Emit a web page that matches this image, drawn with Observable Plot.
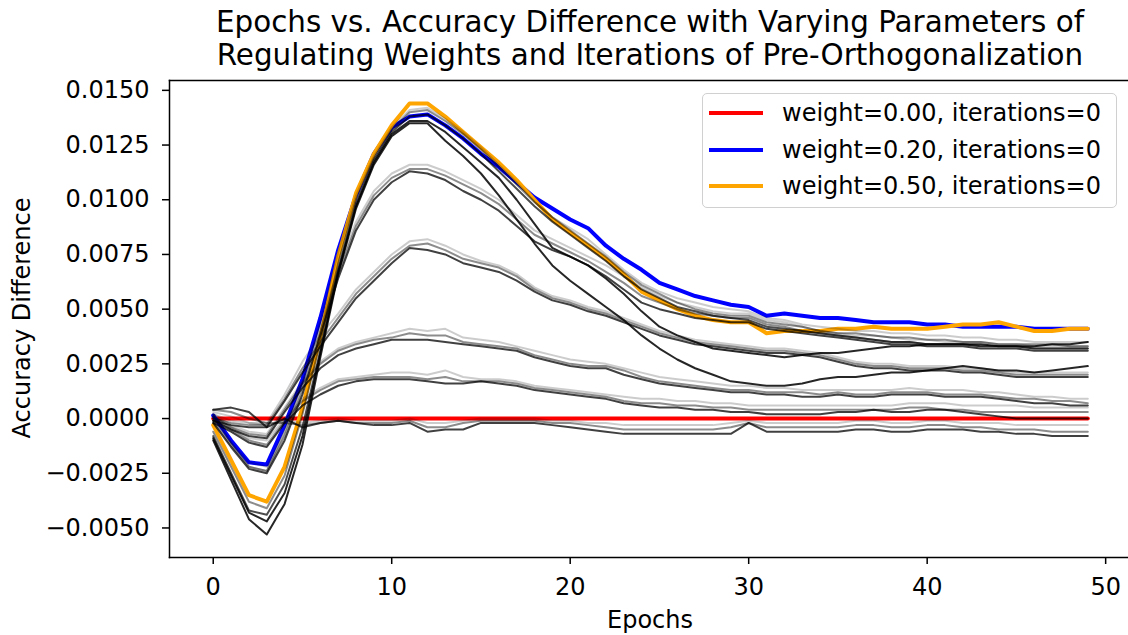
<!DOCTYPE html>
<html>
<head>
<meta charset="utf-8">
<script src="https://cdn.jsdelivr.net/npm/d3@7"></script>
<script src="https://cdn.jsdelivr.net/npm/@observablehq/plot@0.6"></script>
<style>
  body { margin: 0; background: #fff; font-family: "DejaVu Sans", sans-serif; }
  #wrap { position: relative; width: 1128px; height: 635px; overflow: hidden; background: #fff; }
  #title { height: 78px; box-sizing: border-box; padding: 6px 0 0 169px; width: 1131px;
           text-align: center; font-size: 29.4px; line-height: 33px; color: #000; }
  #chart svg { display: block; }
  #legend { position: absolute; left: 702px; top: 93px; width: 415px; height: 115px; box-sizing: border-box;
            border: 1.5px solid #d0d0d0; border-radius: 5px; background: rgba(255,255,255,0.8); }
  .row { position: absolute; left: 0; height: 30px; width: 100%; }
  .row .sw { position: absolute; left: 6px; top: 13px; width: 54px; height: 4px; }
  .row .tx { position: absolute; left: 79px; top: 0; font-size: 24px; line-height: 30px; white-space: nowrap; }
  #xlabel { position: absolute; left: 169px; width: 962px; top: 605px; text-align: center; font-size: 24px; line-height: 30px; }
  #ylabel { position: absolute; left: 22px; top: 318px; font-size: 24px; line-height: 30px; white-space: nowrap;
            transform: translate(-50%, -50%) rotate(-90deg); }
</style>
</head>
<body>
<div id="wrap">
  <div id="title">Epochs vs. Accuracy Difference with Varying Parameters of<br>Regulating Weights and Iterations of Pre-Orthogonalization</div>
  <div id="chart"></div>
  <div id="legend"></div>
  <div id="xlabel">Epochs</div>
  <div id="ylabel">Accuracy Difference</div>
</div>
<script>
// Training epochs
const epochs = [0,1,2,3,4,5,6,7,8,9,10,11,12,13,14,15,16,17,18,19,20,21,22,23,24,25,26,27,28,29,
  30,31,32,33,34,35,36,37,38,39,40,41,42,43,44,45,46,47,48,49];

const xTicks = [0, 10, 20, 30, 40, 50];
const yTicks = [-0.005, -0.0025, 0, 0.0025, 0.005, 0.0075, 0.01, 0.0125, 0.015];

// Highlighted runs (no pre-orthogonalization iterations)
const w000_it0 = [0,0,0,0,0,0,0,0,0,0,0,0,0,0,0,0,0,0,0,0,0,0,0,0,0,0,0,0,0,0,
  0,0,0,0,0,0,0,0,0,0,0,0,0,0,0,0,0,0,0,0];
const w020_it0 = [0.00014, -0.0010, -0.0020, -0.0021, -0.0003, 0.0018, 0.0046, 0.0077, 0.0102, 0.0121,
  0.0133, 0.0138, 0.0139, 0.0134, 0.0128, 0.0121, 0.0115, 0.0108, 0.0101, 0.0096,
  0.0091, 0.0087, 0.0079, 0.0073, 0.0068, 0.0062, 0.0059, 0.0056, 0.0054, 0.0052,
  0.0051, 0.0047, 0.0048, 0.0047, 0.0046, 0.0046, 0.0045, 0.0044, 0.0044, 0.0044,
  0.0043, 0.0043, 0.0042, 0.0042, 0.0042, 0.0042, 0.0041, 0.0041, 0.0041, 0.0041];
const w050_it0 = [-0.0003, -0.0019, -0.0035, -0.0038, -0.0022, 0.0005, 0.0037, 0.0074, 0.0103, 0.0121,
  0.0134, 0.0144, 0.0144, 0.0138, 0.0131, 0.0124, 0.0117, 0.0109, 0.0100, 0.0091,
  0.0085, 0.0079, 0.0073, 0.0066, 0.0058, 0.0054, 0.0050, 0.0047, 0.0045, 0.0044,
  0.0044, 0.0039, 0.0040, 0.0040, 0.0040, 0.0041, 0.0041, 0.0042, 0.0041, 0.0041,
  0.0041, 0.0042, 0.0043, 0.0043, 0.0044, 0.0042, 0.0040, 0.0040, 0.0041, 0.0041];

// Remaining runs, grouped by peak level; shade darkens with iterations
const grpA_1 = [0.0002, -0.0011, -0.0022, -0.0024, -0.0006, 0.0016, 0.0044, 0.0076, 0.0102, 0.0120,
  0.0133, 0.0141, 0.0142, 0.0137, 0.0131, 0.0124, 0.0116, 0.0108, 0.0099, 0.0092,
  0.0087, 0.0082, 0.0075, 0.0068, 0.0062, 0.0058, 0.0055, 0.0053, 0.0051, 0.0050,
  0.0049, 0.0046, 0.0045, 0.0043, 0.0042, 0.0041, 0.0040, 0.0040, 0.0039, 0.0039,
  0.0038, 0.0038, 0.0037, 0.0037, 0.0036, 0.0036, 0.0035, 0.0035, 0.0035, 0.0035];
const grpA_2 = [-0.0006, -0.0022, -0.0038, -0.0041, -0.0026, 0.0002, 0.0035, 0.0071, 0.0100, 0.0119,
  0.0132, 0.0140, 0.0141, 0.0136, 0.0130, 0.0123, 0.0115, 0.0107, 0.0099, 0.0092,
  0.0086, 0.0080, 0.0074, 0.0067, 0.0061, 0.0057, 0.0053, 0.0050, 0.0048, 0.0047,
  0.0047, 0.0044, 0.0043, 0.0042, 0.0040, 0.0039, 0.0039, 0.0038, 0.0037, 0.0037,
  0.0036, 0.0036, 0.0035, 0.0035, 0.0034, 0.0034, 0.0034, 0.0034, 0.0033, 0.0033];
const grpA_3 = [-0.0008, -0.0025, -0.0042, -0.0044, -0.0030, -0.0004, 0.0031, 0.0068, 0.0098, 0.0118,
  0.0131, 0.0138, 0.0139, 0.0134, 0.0128, 0.0121, 0.0113, 0.0105, 0.0097, 0.0090,
  0.0084, 0.0078, 0.0072, 0.0065, 0.0059, 0.0055, 0.0051, 0.0049, 0.0047, 0.0046,
  0.0045, 0.0042, 0.0041, 0.0040, 0.0039, 0.0038, 0.0037, 0.0036, 0.0035, 0.0035,
  0.0034, 0.0034, 0.0034, 0.0033, 0.0033, 0.0033, 0.0032, 0.0032, 0.0032, 0.0032];
const grpK_1 = [-0.0010, -0.0028, -0.0046, -0.0053, -0.0039, -0.0012, 0.0028, 0.0066, 0.0096, 0.0116,
  0.0129, 0.0135, 0.0135, 0.0127, 0.0120, 0.0112, 0.0102, 0.0091, 0.0080, 0.0070,
  0.0063, 0.0057, 0.0051, 0.0045, 0.0038, 0.0032, 0.0027, 0.0023, 0.0020, 0.0017,
  0.0016, 0.0015, 0.0015, 0.0016, 0.0018, 0.0019, 0.0019, 0.0020, 0.0021, 0.0021,
  0.0022, 0.0023, 0.0024, 0.0023, 0.0022, 0.0022, 0.0021, 0.0022, 0.0023, 0.0024];
const grpK_2 = [-0.0009, -0.0026, -0.0043, -0.0047, -0.0034, -0.0008, 0.0030, 0.0067, 0.0097, 0.0117,
  0.0130, 0.0136, 0.0136, 0.0131, 0.0124, 0.0117, 0.0110, 0.0100, 0.0089, 0.0078,
  0.0074, 0.0070, 0.0064, 0.0057, 0.0049, 0.0042, 0.0038, 0.0035, 0.0032, 0.0031,
  0.0030, 0.0029, 0.0028, 0.0029, 0.0030, 0.0030, 0.0031, 0.0032, 0.0033, 0.0033,
  0.0034, 0.0034, 0.0034, 0.0034, 0.0033, 0.0033, 0.0033, 0.0034, 0.0034, 0.0035];
const grpB_1 = [0.0001, -0.0011, -0.0020, -0.0022, -0.0006, 0.0016, 0.0043, 0.0068, 0.0090, 0.0104,
  0.0112, 0.0116, 0.0116, 0.0113, 0.0109, 0.0105, 0.0100, 0.0093, 0.0086, 0.0082,
  0.0078, 0.0074, 0.0070, 0.0065, 0.0060, 0.0056, 0.0053, 0.0051, 0.0049, 0.0048,
  0.0048, 0.0045, 0.0044, 0.0042, 0.0040, 0.0039, 0.0038, 0.0038, 0.0037, 0.0036,
  0.0036, 0.0035, 0.0035, 0.0035, 0.0034, 0.0034, 0.0033, 0.0033, 0.0033, 0.0033];
const grpB_2 = [-0.0001, -0.0012, -0.0022, -0.0024, -0.0008, 0.0013, 0.0040, 0.0066, 0.0088, 0.0102,
  0.0110, 0.0114, 0.0114, 0.0111, 0.0107, 0.0103, 0.0098, 0.0091, 0.0084, 0.0080,
  0.0076, 0.0072, 0.0067, 0.0062, 0.0056, 0.0053, 0.0050, 0.0048, 0.0047, 0.0046,
  0.0046, 0.0043, 0.0042, 0.0040, 0.0039, 0.0038, 0.0037, 0.0036, 0.0035, 0.0035,
  0.0034, 0.0034, 0.0034, 0.0033, 0.0033, 0.0033, 0.0032, 0.0032, 0.0032, 0.0032];
const grpB_3 = [-0.0002, -0.0013, -0.0023, -0.0025, -0.0010, 0.0011, 0.0038, 0.0064, 0.0086, 0.0100,
  0.0108, 0.0113, 0.0112, 0.0109, 0.0104, 0.0100, 0.0095, 0.0088, 0.0081, 0.0077,
  0.0074, 0.0070, 0.0065, 0.0059, 0.0053, 0.0050, 0.0048, 0.0046, 0.0045, 0.0044,
  0.0044, 0.0041, 0.0040, 0.0039, 0.0038, 0.0037, 0.0036, 0.0035, 0.0034, 0.0034,
  0.0033, 0.0033, 0.0033, 0.0032, 0.0032, 0.0032, 0.0031, 0.0031, 0.0031, 0.0031];
const grpC_1 = [0.0002, -0.0001, -0.0002, -0.0002, 0.0011, 0.0026, 0.0038, 0.0048, 0.0059, 0.0067,
  0.0075, 0.0081, 0.0082, 0.0079, 0.0075, 0.0072, 0.0070, 0.0066, 0.0060, 0.0056,
  0.0054, 0.0051, 0.0049, 0.0046, 0.0043, 0.0040, 0.0038, 0.0036, 0.0035, 0.0034,
  0.0033, 0.0032, 0.0032, 0.0031, 0.0030, 0.0028, 0.0026, 0.0025, 0.0025, 0.0024,
  0.0024, 0.0024, 0.0023, 0.0023, 0.0022, 0.0021, 0.0021, 0.0021, 0.0021, 0.0021];
const grpC_2 = [0.0000, -0.0002, -0.0003, -0.0003, 0.0009, 0.0023, 0.0035, 0.0046, 0.0057, 0.0065,
  0.0073, 0.0079, 0.0080, 0.0077, 0.0073, 0.0071, 0.0069, 0.0065, 0.0059, 0.0055,
  0.0053, 0.0050, 0.0048, 0.0045, 0.0042, 0.0039, 0.0037, 0.0035, 0.0034, 0.0033,
  0.0032, 0.0031, 0.0031, 0.0030, 0.0029, 0.0027, 0.0025, 0.0024, 0.0024, 0.0023,
  0.0023, 0.0023, 0.0022, 0.0022, 0.0021, 0.0020, 0.0020, 0.0020, 0.0020, 0.0020];
const grpC_3 = [-0.0001, -0.0003, -0.0004, -0.0004, 0.0008, 0.0021, 0.0033, 0.0044, 0.0055, 0.0063,
  0.0071, 0.0078, 0.0077, 0.0075, 0.0071, 0.0069, 0.0067, 0.0063, 0.0058, 0.0054,
  0.0052, 0.0049, 0.0047, 0.0044, 0.0041, 0.0038, 0.0036, 0.0034, 0.0033, 0.0032,
  0.0031, 0.0030, 0.0030, 0.0029, 0.0028, 0.0026, 0.0024, 0.0023, 0.0023, 0.0022,
  0.0022, 0.0022, 0.0021, 0.0021, 0.0020, 0.0019, 0.0019, 0.0019, 0.0019, 0.0019];
const grpD_1 = [0.0002, -0.0003, -0.0006, -0.0007, 0.0005, 0.0017, 0.0026, 0.0032, 0.0035, 0.0037,
  0.0039, 0.0041, 0.0040, 0.0041, 0.0037, 0.0036, 0.0035, 0.0033, 0.0031, 0.0029,
  0.0027, 0.0026, 0.0025, 0.0023, 0.0021, 0.0019, 0.0018, 0.0017, 0.0016, 0.0015,
  0.0015, 0.0014, 0.0014, 0.0013, 0.0013, 0.0013, 0.0013, 0.0013, 0.0013, 0.0014,
  0.0013, 0.0013, 0.0013, 0.0012, 0.0012, 0.0011, 0.0010, 0.0010, 0.0009, 0.0009];
const grpD_2 = [0.0001, -0.0004, -0.0007, -0.0008, 0.0004, 0.0016, 0.0025, 0.0031, 0.0034, 0.0036,
  0.0037, 0.0039, 0.0038, 0.0038, 0.0035, 0.0034, 0.0033, 0.0032, 0.0029, 0.0027,
  0.0025, 0.0024, 0.0024, 0.0022, 0.0019, 0.0017, 0.0016, 0.0015, 0.0014, 0.0013,
  0.0013, 0.0012, 0.0012, 0.0012, 0.0011, 0.0012, 0.0011, 0.0011, 0.0012, 0.0012,
  0.0012, 0.0011, 0.0011, 0.0011, 0.0010, 0.0009, 0.0009, 0.0008, 0.0008, 0.0007];
const grpD_3 = [-0.0001, -0.0005, -0.0008, -0.0009, 0.0003, 0.0014, 0.0023, 0.0029, 0.0032, 0.0034,
  0.0036, 0.0036, 0.0036, 0.0035, 0.0034, 0.0033, 0.0032, 0.0031, 0.0028, 0.0026,
  0.0024, 0.0023, 0.0023, 0.0020, 0.0018, 0.0016, 0.0015, 0.0014, 0.0013, 0.0012,
  0.0012, 0.0011, 0.0011, 0.0010, 0.0010, 0.0011, 0.0010, 0.0010, 0.0011, 0.0011,
  0.0011, 0.0010, 0.0010, 0.0010, 0.0009, 0.0008, 0.0007, 0.0007, 0.0006, 0.0006];
const grpE_1 = [0.0001, -0.0004, -0.0009, -0.0010, 0.0000, 0.0009, 0.0014, 0.0018, 0.0019, 0.0020,
  0.0021, 0.0021, 0.0020, 0.0022, 0.0019, 0.0018, 0.0018, 0.0017, 0.0015, 0.0014,
  0.0013, 0.0012, 0.0011, 0.0010, 0.0009, 0.0009, 0.0008, 0.0008, 0.0007, 0.0007,
  0.0006, 0.0006, 0.0006, 0.0006, 0.0006, 0.0006, 0.0006, 0.0006, 0.0006, 0.0007,
  0.0007, 0.0007, 0.0006, 0.0006, 0.0006, 0.0006, 0.0005, 0.0005, 0.0005, 0.0005];
const grpE_2 = [0.0000, -0.0005, -0.0010, -0.0012, -0.0001, 0.0008, 0.0013, 0.0017, 0.0018, 0.0019,
  0.0019, 0.0019, 0.0018, 0.0019, 0.0017, 0.0017, 0.0017, 0.0016, 0.0014, 0.0013,
  0.0012, 0.0011, 0.0010, 0.0008, 0.0007, 0.0007, 0.0006, 0.0006, 0.0005, 0.0005,
  0.0004, 0.0004, 0.0004, 0.0004, 0.0004, 0.0004, 0.0004, 0.0004, 0.0004, 0.0005,
  0.0005, 0.0004, 0.0004, 0.0003, 0.0003, 0.0003, 0.0003, 0.0003, 0.0003, 0.0003];
const grpE_3 = [-0.0002, -0.0006, -0.0011, -0.0013, -0.0002, 0.0006, 0.0011, 0.0015, 0.0017, 0.0018,
  0.0018, 0.0018, 0.0017, 0.0016, 0.0016, 0.0017, 0.0016, 0.0015, 0.0013, 0.0012,
  0.0011, 0.0010, 0.0009, 0.0007, 0.0006, 0.0005, 0.0005, 0.0004, 0.0004, 0.0003,
  0.0003, 0.0002, 0.0002, 0.0002, 0.0002, 0.0003, 0.0003, 0.0004, 0.0003, 0.0003,
  0.0004, 0.0004, 0.0003, 0.0002, 0.0001, 0.0000, 0.0000, 0.0000, 0.0000, 0.0000];
const grpF_1 = [0.0003, 0.0001, -0.0002, -0.0003, -0.0001, -0.0002, -0.0001, 0.0000, -0.0001, -0.0001,
  -0.0001, 0.0000, -0.0002, -0.0002, -0.0001, 0.0000, 0.0000, 0.0000, 0.0000, -0.0001,
  -0.0001, -0.0002, -0.0002, -0.0003, -0.0003, -0.0003, -0.0003, -0.0003, -0.0003, -0.0002,
  -0.0001, -0.0002, -0.0002, -0.0002, -0.0002, -0.0002, -0.0001, -0.0001, -0.0002, -0.0002,
  -0.0001, -0.0001, -0.0002, -0.0002, -0.0002, -0.0003, -0.0003, -0.0003, -0.0003, -0.0003];
const grpF_2 = [0.0004, 0.0003, 0.0000, -0.0002, -0.0002, -0.0003, -0.0002, -0.0001, -0.0002, -0.0002,
  -0.0002, -0.0001, -0.0004, -0.0004, -0.0002, -0.0001, -0.0001, -0.0001, -0.0001, -0.0002,
  -0.0002, -0.0003, -0.0004, -0.0005, -0.0005, -0.0005, -0.0005, -0.0005, -0.0005, -0.0004,
  -0.0002, -0.0004, -0.0004, -0.0004, -0.0004, -0.0004, -0.0003, -0.0003, -0.0004, -0.0004,
  -0.0003, -0.0003, -0.0004, -0.0004, -0.0005, -0.0005, -0.0005, -0.0006, -0.0006, -0.0006];
const grpF_3 = [0.0004, 0.0005, 0.0003, -0.0004, 0.0000, -0.0004, -0.0002, -0.0001, -0.0002, -0.0003,
  -0.0003, -0.0002, -0.0006, -0.0005, -0.0005, -0.0002, -0.0002, -0.0002, -0.0002, -0.0003,
  -0.0004, -0.0005, -0.0006, -0.0007, -0.0007, -0.0007, -0.0007, -0.0007, -0.0007, -0.0007,
  -0.0002, -0.0006, -0.0006, -0.0006, -0.0006, -0.0006, -0.0005, -0.0005, -0.0006, -0.0006,
  -0.0005, -0.0005, -0.0005, -0.0006, -0.0006, -0.0007, -0.0007, -0.0008, -0.0008, -0.0008];

const highlighted = [
  {label: "weight=0.00, iterations=0", values: w000_it0, color: "#ff0000"},
  {label: "weight=0.20, iterations=0", values: w020_it0, color: "#0000ff"},
  {label: "weight=0.50, iterations=0", values: w050_it0, color: "#ffa500"}
];

// gray runs: [values, opacity]
const others = [
  [grpF_1, 0.2], [grpF_2, 0.45], [grpF_3, 0.75],
  [grpE_1, 0.2], [grpE_2, 0.45], [grpE_3, 0.75],
  [grpD_1, 0.2], [grpD_2, 0.45], [grpD_3, 0.75],
  [grpC_1, 0.2], [grpC_2, 0.45], [grpC_3, 0.75],
  [grpB_1, 0.2], [grpB_2, 0.45], [grpB_3, 0.75],
  [grpA_1, 0.2], [grpA_2, 0.45], [grpA_3, 0.7],
  [grpK_2, 0.85], [grpK_1, 0.85]
];

const rowsOf = values => values.map((v, i) => ({epoch: epochs[i], value: v}));

const chart = Plot.plot({
  width: 1128,
  height: 557,
  marginLeft: 169,
  marginRight: 0,
  marginTop: 2,
  marginBottom: 78,
  style: {fontFamily: "DejaVu Sans", fontSize: "24px", color: "#000", background: "#fff", overflow: "visible"},
  x: {domain: [-2.45, 51.28]},
  y: {domain: [-0.00635, 0.01545]},
  marks: [
    ...highlighted.map(s => Plot.line(rowsOf(s.values), {x: "epoch", y: "value", stroke: s.color, strokeWidth: 4})),
    ...others.map(([vals, op]) => Plot.line(rowsOf(vals), {x: "epoch", y: "value", stroke: "#000", strokeOpacity: op, strokeWidth: 2})),
    Plot.axisX({ticks: xTicks, tickFormat: d => String(d), tickSize: 7, tickPadding: 13, strokeWidth: 1.5, label: null, fontSize: 24}),
    Plot.axisY({ticks: yTicks, tickFormat: d3.format(".4f"), tickSize: 7, tickPadding: 13, strokeWidth: 1.5, label: null, fontSize: 24}),
    Plot.frame({anchor: "top", strokeWidth: 1.5}),
    Plot.frame({anchor: "bottom", strokeWidth: 1.5}),
    Plot.frame({anchor: "left", strokeWidth: 1.5})
  ]
});
document.getElementById("chart").appendChild(chart);

// legend rows
const legend = document.getElementById("legend");
highlighted.forEach((s, i) => {
  const row = document.createElement("div");
  row.className = "row";
  row.style.top = (4 + i * 36.5) + "px";
  row.innerHTML = `<div class="sw" style="background:${s.color}"></div><div class="tx">${s.label}</div>`;
  legend.appendChild(row);
});
</script>
</body>
</html>
